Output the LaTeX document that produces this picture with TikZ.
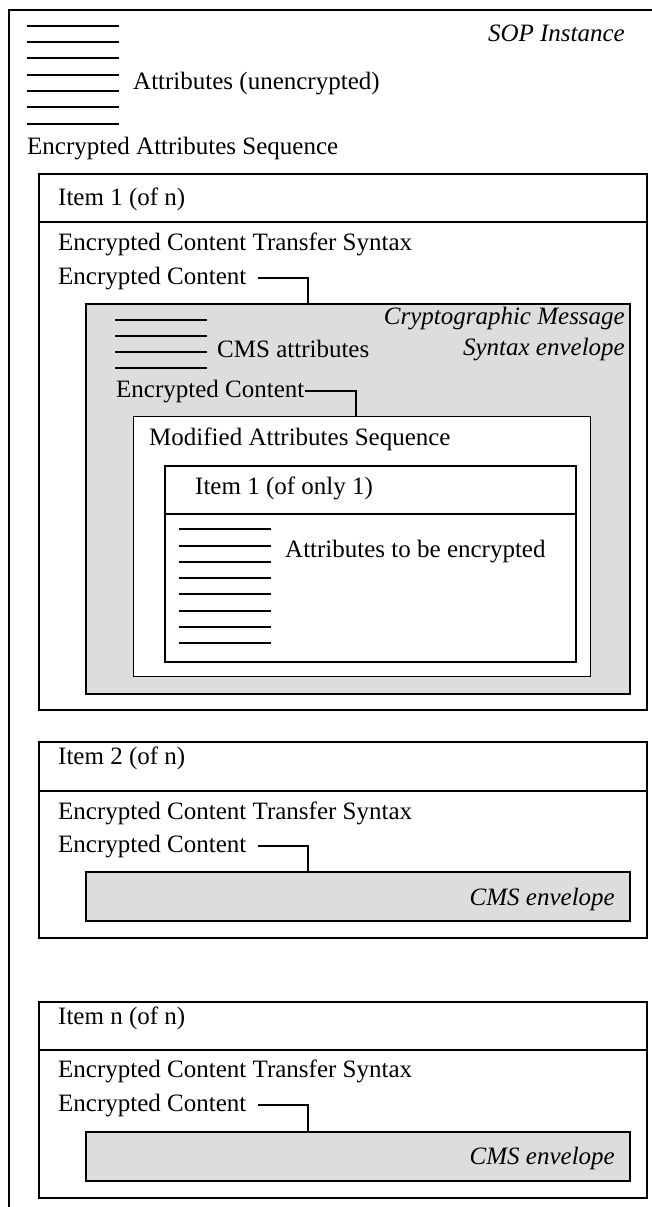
\documentclass[tikz,border=0pt]{standalone}
\usepackage{fontspec}
\setmainfont{Liberation Serif}
\definecolor{envgray}{RGB}{221,221,221}
\begin{document}
\begin{tikzpicture}[x=1pt,y=-1pt,
  lbl/.style={anchor=base west, inner sep=0pt, font=\fontsize{25}{30}\selectfont},
  lblr/.style={anchor=base east, inner sep=0pt, font=\fontsize{25}{30}\selectfont\itshape},
  box/.style={draw, line width=1.5pt, rectangle, anchor=north west, inner sep=0pt},
  envbox/.style={box, fill=envgray},
  attrline/.style={line width=1.2pt},
  conn/.style={line width=1.2pt},
  divider/.style={line width=1.5pt}]
\path[use as bounding box] (0,0) rectangle (652,1207);
% outer SOP frame (only top and left visible)
\draw[line width=1.8pt] (9,1212) -- (9,10) -- (657,10);
\node[lblr] (sop) at (625,42) {SOP Instance};
\foreach \yy in {26,42,58,75,91,107,124} \draw[attrline] (27,\yy) -- (119,\yy);
\node[lbl] (attru) at (133,89) {Attributes (unencrypted)};
\node[lbl] (eas) at (27,154) {Encrypted Attributes Sequence};
% Item 1
\node[box, minimum width=608, minimum height=536] (item1) at (38,173) {};
\draw[divider] (38,222) -- (646,222);
\node[lbl] (it1) at (58,205) {Item 1 (of n)};
\node[lbl] (ects1) at (58,250) {Encrypted Content Transfer Syntax};
\node[lbl] (ec1) at (58,284) {Encrypted Content};
\node[envbox, minimum width=544, minimum height=390] (cms1) at (85,303) {};
\coordinate (cms1in) at (308,303);
\draw[conn] ([xshift=11pt]ec1.east) -| (cms1in);
\node[lblr] (cmt1) at (625,324) {Cryptographic Message};
\node[lblr] (cmt2) at (625,355) {Syntax envelope};
\foreach \yy in {320,336,352,368} \draw[attrline] (115,\yy) -- (207,\yy);
\node[lbl] (cmsa) at (217,357) {CMS attributes};
\node[lbl] (ec1i) at (116,397) {Encrypted Content};
\node[box, line width=1.3pt, fill=white, minimum width=457, minimum height=260] (mas) at (133,416) {};
\coordinate (masin) at (356,416);
\draw[conn] (ec1i.east) -| (masin);
\node[lbl] (mast) at (149,445) {Modified Attributes Sequence};
\node[box, minimum width=411, minimum height=196] (only1) at (164,465) {};
\draw[divider] (164,514) -- (575,514);
\node[lbl] (o1t) at (195,494) {Item 1 (of only 1)};
\foreach \yy in {529,546,562,578,594,611,627,643} \draw[attrline] (179,\yy) -- (271,\yy);
\node[lbl] (abe) at (285,557) {Attributes to be encrypted};
% Item 2
\node[box, minimum width=608, minimum height=196] (item2) at (38,741) {};
\draw[divider] (38,791) -- (646,791);
\node[lbl] (it2) at (58,764) {Item 2 (of n)};
\node[lbl] (ects2) at (58,819) {Encrypted Content Transfer Syntax};
\node[lbl] (ec2) at (58,852) {Encrypted Content};
\node[envbox, minimum width=544, minimum height=49] (cms2) at (85,871) {};
\coordinate (cms2in) at (308,871);
\draw[conn] ([xshift=11pt]ec2.east) -| (cms2in);
\node[lblr] (env2) at (615,905) {CMS envelope};
% Item n
\node[box, minimum width=608, minimum height=196] (itemn) at (38,1001) {};
\draw[divider] (38,1050) -- (646,1050);
\node[lbl] (itn) at (58,1024) {Item n (of n)};
\node[lbl] (ectsn) at (58,1077) {Encrypted Content Transfer Syntax};
\node[lbl] (ecn) at (58,1111) {Encrypted Content};
\node[envbox, minimum width=544, minimum height=49] (cmsn) at (85,1131) {};
\coordinate (cmsnin) at (308,1131);
\draw[conn] ([xshift=11pt]ecn.east) -| (cmsnin);
\node[lblr] (envn) at (615,1164) {CMS envelope};
\end{tikzpicture}
\end{document}
